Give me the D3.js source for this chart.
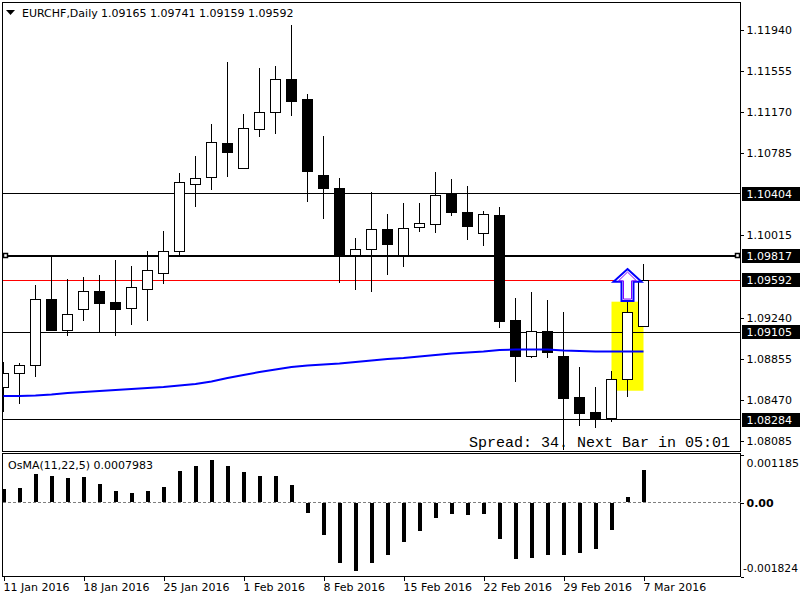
<!DOCTYPE html>
<html>
<head>
<meta charset="utf-8">
<script src="https://cdn.jsdelivr.net/npm/d3@7"></script>
<style>
body { margin: 0; background: #fff; }
svg { display: block; font-family: "DejaVu Sans", sans-serif; font-size: 11px; }
</style>
</head>
<body>
<div id="chart"></div>
<script>
const WIDTH = 800;
const HEIGHT = 600;
const LEFT = 2.5;
const RIGHT = 740.5;
const MAIN_TOP = 2.5;
const MAIN_BOTTOM = 451.5;
const SUB_TOP = 453.5;
const SUB_BOTTOM = 576.5;

// EURCHF daily candles, 11 Jan 2016 .. 7 Mar 2016
const opens = [1.08589, 1.08720, 1.08795, 1.09414, 1.09123, 1.09320, 1.09489, 1.09389, 1.09326, 1.09508,
    1.09658, 1.09864, 1.10493, 1.10555, 1.10880, 1.10639, 1.11009, 1.11168, 1.11478, 1.11290,
    1.10577, 1.10458, 1.09823, 1.09883, 1.10071, 1.09823, 1.10090, 1.10118, 1.10399, 1.10233,
    1.10029, 1.10202, 1.09211, 1.08876, 1.09114, 1.08882, 1.08498, 1.08354, 1.08298, 1.08664, 1.09165];
const highs = [1.08829, 1.08814, 1.09548, 1.09823, 1.09605, 1.09623, 1.09642, 1.09783, 1.09727, 1.09864,
    1.10055, 1.10599, 1.10758, 1.11058, 1.11640, 1.11152, 1.11584, 1.11602, 1.11987, 1.11340,
    1.10946, 1.10552, 1.09989, 1.10421, 1.10214, 1.10317, 1.10317, 1.10608, 1.10543, 1.10477,
    1.10242, 1.10280, 1.09426, 1.09486, 1.09408, 1.09298, 1.08782, 1.08592, 1.08742, 1.09461, 1.09741];
const lows = [1.08360, 1.08429, 1.08688, 1.09117, 1.09073, 1.09214, 1.09105, 1.09073, 1.09176, 1.09214,
    1.09555, 1.09830, 1.10283, 1.10442, 1.10564, 1.10636, 1.10939, 1.10967, 1.11136, 1.10330,
    1.10170, 1.09570, 1.09504, 1.09486, 1.09645, 1.09720, 1.10048, 1.10039, 1.10198, 1.09973,
    1.09917, 1.09148, 1.08641, 1.08861, 1.08867, 1.08001, 1.08229, 1.08204, 1.08266, 1.08501, 1.09159];
const closes = [1.08720, 1.08798, 1.09414, 1.09123, 1.09274, 1.09489, 1.09373, 1.09326, 1.09527, 1.09686,
    1.09864, 1.10512, 1.10549, 1.10887, 1.10799, 1.11018, 1.11168, 1.11478, 1.11268, 1.10611,
    1.10452, 1.09823, 1.09883, 1.10071, 1.09926, 1.10080, 1.10127, 1.10390, 1.10226, 1.10104,
    1.10211, 1.09208, 1.08876, 1.09114, 1.08917, 1.08491, 1.08345, 1.08292, 1.08664, 1.09292, 1.09592];

// moving average (blue)
const maValues = [1.08507, 1.08507, 1.08512, 1.08521, 1.08535, 1.08545, 1.08554, 1.08564, 1.08573, 1.08582,
    1.08592, 1.08606, 1.08620, 1.08643, 1.08676, 1.08704, 1.08732, 1.08756, 1.08779, 1.08793,
    1.08803, 1.08812, 1.08826, 1.08840, 1.08854, 1.08864, 1.08878, 1.08892, 1.08906, 1.08915,
    1.08925, 1.08939, 1.08943, 1.08943, 1.08943, 1.08934, 1.08929, 1.08925, 1.08925, 1.08925, 1.08925];

// OsMA(11,22,5)
const osma = [0.000328, 0.000353, 0.000698, 0.000649, 0.000599, 0.000624, 0.000451, 0.000279, 0.000229, 0.000279,
    0.000377, 0.000772, 0.000895, 0.001043, 0.000895, 0.000747, 0.000649, 0.000649, 0.000427, -0.000257,
    -0.000799, -0.001490, -0.001687, -0.001490, -0.001292, -0.000972, -0.000700, -0.000380, -0.000281, -0.000306,
    -0.000281, -0.000898, -0.001391, -0.001366, -0.001292, -0.001292, -0.001243, -0.001144, -0.000676, 0.000131, 0.0007983];

const priceTicks = [1.11940, 1.11555, 1.11170, 1.10785, 1.10015, 1.09240, 1.08855, 1.08470, 1.08085];
const levels = [1.10404, 1.09817, 1.09592, 1.09105, 1.08284];
const weekIndex = [0, 5, 10, 15, 20, 25, 30, 35, 40];
const weekLabels = ["11 Jan 2016", "18 Jan 2016", "25 Jan 2016", "1 Feb 2016", "8 Feb 2016",
    "15 Feb 2016", "22 Feb 2016", "29 Feb 2016", "7 Mar 2016"];
const osmaTicks = [0.001185, 0, -0.001824];
const osmaTickLabels = ["0.001185", "0.00", "-0.001824"];

// rectangle and arrow objects: [fromIndex, toIndex, priceTop, priceBottom]
const boxObject = [38, 40, 1.09392, 1.08557];
const arrowObject = [39, 1.09698, 1.09398];

const crisp = v => Math.floor(v) + 0.5;

const svg = d3.select('#chart')
    .append('svg')
    .attr('width', WIDTH)
    .attr('height', HEIGHT);

svg.append('rect').attr('width', WIDTH).attr('height', HEIGHT).attr('fill', '#fff');

const x = d3.scaleLinear().domain([0, 40]).range([3.5, 643.5]);
const y = d3.scaleLinear().domain([1.07987, 1.12198]).range([MAIN_BOTTOM, MAIN_TOP]);
const yo = d3.scaleLinear().domain([-0.001824, 0.001185]).range([SUB_BOTTOM, SUB_TOP + 1]);

svg.append('clipPath').attr('id', 'mainClip')
    .append('rect').attr('x', 3).attr('y', 3).attr('width', RIGHT - 3).attr('height', MAIN_BOTTOM - 3);

const main = svg.append('g').attr('clip-path', 'url(#mainClip)');

// yellow rectangle
main.append('rect')
    .attr('x', x(boxObject[0]))
    .attr('y', y(boxObject[2]))
    .attr('width', x(boxObject[1]) - x(boxObject[0]))
    .attr('height', y(boxObject[3]) - y(boxObject[2]))
    .attr('fill', '#ffff00');

// horizontal levels
main.selectAll('line.level')
    .data(levels)
    .enter()
    .append('line')
    .attr('class', 'level')
    .attr('x1', LEFT)
    .attr('x2', RIGHT)
    .attr('y1', (d, i) => i === 1 ? Math.round(y(d)) : crisp(y(d)))
    .attr('y2', (d, i) => i === 1 ? Math.round(y(d)) : crisp(y(d)))
    .attr('stroke', (d, i) => i === 2 ? '#ff0000' : '#000')
    .attr('stroke-width', (d, i) => i === 1 ? 2 : 1)
    .attr('shape-rendering', 'crispEdges');

// candles
const candles = main.selectAll('g.candle')
    .data(opens.map((o, i) => ({ i, o, h: highs[i], l: lows[i], c: closes[i] })))
    .enter()
    .append('g')
    .attr('class', 'candle')
    .attr('shape-rendering', 'crispEdges');

candles.append('line')
    .attr('x1', d => x(d.i))
    .attr('x2', d => x(d.i))
    .attr('y1', d => Math.round(y(d.h)))
    .attr('y2', d => Math.round(y(d.l)))
    .attr('stroke', '#000');

candles.append('rect')
    .attr('x', d => x(d.i) - 5)
    .attr('y', d => crisp(y(Math.max(d.o, d.c))))
    .attr('width', 10)
    .attr('height', d => Math.max(1, Math.round(Math.abs(y(d.o) - y(d.c)))))
    .attr('fill', d => d.c >= d.o ? '#fff' : '#000')
    .attr('stroke', '#000');

// moving average
main.append('path')
    .datum(maValues)
    .attr('d', d3.line().x((d, i) => x(i)).y(d => y(d)))
    .attr('fill', 'none')
    .attr('stroke', '#0000ff')
    .attr('stroke-width', 2);

// arrow object
const ax = x(arrowObject[0]);
const aTop = y(arrowObject[1]);
const aBot = y(arrowObject[2]);
const aHead = aTop + (aBot - aTop) * 0.4;
main.append('path')
    .attr('d', `M${ax},${aTop} L${ax + 14},${aHead} L${ax + 6},${aHead} L${ax + 6},${aBot} L${ax - 6},${aBot} L${ax - 6},${aHead} L${ax - 14},${aHead} Z`)
    .attr('fill', '#fff')
    .attr('stroke', '#0000ff')
    .attr('stroke-width', 2);
main.append('path')
    .attr('d', `M${ax},${aTop + 3} L${ax + 9},${aHead - 1} L${ax + 4},${aHead - 1} L${ax + 4},${aBot - 2} L${ax - 4},${aBot - 2} L${ax - 4},${aHead - 1} L${ax - 9},${aHead - 1} Z`)
    .attr('fill', 'none')
    .attr('stroke', '#8000ff')
    .attr('stroke-width', 1);

// handles on the thick level
[3, 735].forEach(hx => {
    svg.append('rect')
        .attr('x', hx + 0.5)
        .attr('y', Math.round(y(levels[1])) - 2.5)
        .attr('width', 4)
        .attr('height', 4)
        .attr('fill', '#fff')
        .attr('stroke', '#000')
        .attr('stroke-width', 1.5);
});

// spread text
svg.append('text')
    .attr('x', 469)
    .attr('y', 447)
    .attr('font-family', '"Liberation Mono", monospace')
    .attr('font-size', 15)
    .text('Spread: 34. Next Bar in 05:01');

// frames
svg.append('rect').attr('x', LEFT).attr('y', MAIN_TOP).attr('width', RIGHT - LEFT).attr('height', MAIN_BOTTOM - MAIN_TOP)
    .attr('fill', 'none').attr('stroke', '#000').attr('shape-rendering', 'crispEdges');
svg.append('rect').attr('x', LEFT).attr('y', SUB_TOP).attr('width', RIGHT - LEFT).attr('height', SUB_BOTTOM - SUB_TOP)
    .attr('fill', 'none').attr('stroke', '#000').attr('shape-rendering', 'crispEdges');

// price axis
const priceAxis = svg.append('g')
    .attr('transform', `translate(${RIGHT},0)`)
    .call(d3.axisRight(y).tickValues(priceTicks).tickSize(3).tickSizeOuter(0).tickFormat(d3.format('.5f')));
priceAxis.select('.domain').remove();
priceAxis.attr('font-family', null).attr('font-size', null);
priceAxis.selectAll('line').attr('shape-rendering', 'crispEdges');

// highlighted level labels
const tags = svg.selectAll('g.tag')
    .data(levels)
    .enter()
    .append('g')
    .attr('class', 'tag')
    .attr('transform', d => `translate(742,${Math.round(y(d))})`);
tags.append('rect').attr('x', 0).attr('y', -7).attr('width', 58).attr('height', 14).attr('fill', '#000');
tags.append('text').attr('x', 4.5).attr('dy', '0.35em').attr('fill', '#fff').text(d => d3.format('.5f')(d));

// title
svg.append('path').attr('d', 'M6,10 L15,10 L10.5,15 Z').attr('fill', '#000');
svg.append('text').attr('x', 22).attr('y', 17).text('EURCHF,Daily');
svg.append('text').attr('x', 101).attr('y', 17)
    .text([opens, highs, lows, closes].map(a => d3.format('.5f')(a[a.length - 1])).join(' '));

// OsMA panel
svg.append('line')
    .attr('x1', LEFT).attr('x2', RIGHT)
    .attr('y1', crisp(yo(0))).attr('y2', crisp(yo(0)))
    .attr('stroke', '#808080')
    .attr('stroke-dasharray', '3,2')
    .attr('shape-rendering', 'crispEdges');

svg.append('clipPath').attr('id', 'subClip')
    .append('rect').attr('x', 3).attr('y', SUB_TOP).attr('width', RIGHT - 3).attr('height', SUB_BOTTOM - SUB_TOP);

svg.append('g').attr('clip-path', 'url(#subClip)')
    .selectAll('rect')
    .data(osma)
    .enter()
    .append('rect')
    .attr('x', (d, i) => x(i) - 1.5)
    .attr('y', d => Math.round(Math.min(yo(d), yo(0))))
    .attr('width', 4)
    .attr('height', d => Math.round(Math.abs(yo(d) - yo(0))))
    .attr('fill', '#000');

svg.append('text').attr('x', 8).attr('y', 469)
    .text('OsMA(11,22,5) ' + d3.format('.7f')(osma[osma.length - 1]));

const osmaAxis = svg.append('g')
    .attr('transform', `translate(${RIGHT},0)`)
    .call(d3.axisRight(yo).tickValues(osmaTicks).tickSize(3).tickSizeOuter(0).tickFormat((d, i) => osmaTickLabels[i]));
osmaAxis.select('.domain').remove();
osmaAxis.attr('font-family', null).attr('font-size', null);
osmaAxis.selectAll('line').attr('shape-rendering', 'crispEdges');
osmaAxis.selectAll('text')
    .attr('dy', (d, i) => i === 0 ? '1.05em' : i === 2 ? '-0.45em' : '0.35em')
    .attr('font-weight', (d, i) => i === 1 ? 'bold' : null);
osmaAxis.selectAll('text').filter((d, i) => i === 2)
    .attr('x', 2.5)
    .attr('textLength', 55)
    .attr('lengthAdjust', 'spacingAndGlyphs');

// date axis
const dateAxis = svg.append('g')
    .attr('transform', `translate(0,${SUB_BOTTOM})`)
    .call(d3.axisBottom(x).tickValues(weekIndex).tickSize(4).tickSizeOuter(0).tickFormat((d, i) => weekLabels[i]));
dateAxis.select('.domain').remove();
dateAxis.attr('font-family', null).attr('font-size', null);
dateAxis.selectAll('line').attr('shape-rendering', 'crispEdges');
dateAxis.selectAll('text').attr('text-anchor', 'start').attr('x', -0.5);
</script>
</body>
</html>
